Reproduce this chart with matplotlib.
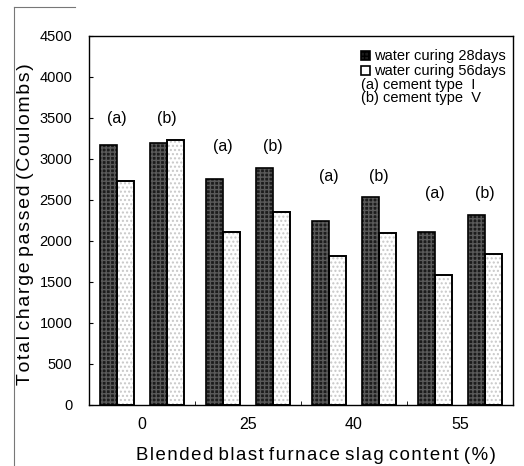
import numpy as np
import matplotlib.pyplot as plt
from matplotlib.lines import Line2D
from matplotlib.patches import Rectangle

plt.rcParams['font.family'] = ['Liberation Sans', 'DejaVu Sans']

# slag content groups and the two cement types inside each group
slag = ['0', '25', '40', '55']
cement = ['(a)', '(b)']

# total charge passed (Coulombs), order: 0(a), 0(b), 25(a), 25(b), ...
curing_28 = [3170, 3190, 2760, 2890, 2240, 2530, 2110, 2320]
curing_56 = [2730, 3230, 2110, 2350, 1820, 2100, 1590, 1840]


def spaced(s, gap='\u200a'):
    # crude letter spacing like the scanned figure
    return ' '.join(gap.join(word) for word in s.split(' '))


fig = plt.figure(figsize=(5.24, 4.66), dpi=100)
ax = fig.add_axes([0.170, 0.131, 0.809, 0.792])

w = 0.16
off = 0.235
pos = []
for i in range(len(slag)):
    pos += [i - off, i + off]
pos = np.array(pos)

# textured fill first, then the black outline on top
ax.bar(pos - w / 2, curing_28, w, color='#1c1c1c', hatch='++++',
       edgecolor='#5a5a5a', linewidth=0)
ax.bar(pos + w / 2, curing_56, w, color='white', hatch='....',
       edgecolor='#c8c8c8', linewidth=0)
ax.bar(pos - w / 2, curing_28, w, fill=False, edgecolor='black', linewidth=1.2)
ax.bar(pos + w / 2, curing_56, w, fill=False, edgecolor='black', linewidth=1.4)

# (a)/(b) labels above each group
for i in range(len(slag)):
    top = max(curing_28[2 * i:2 * i + 2] + curing_56[2 * i:2 * i + 2])
    for j, lab in enumerate(cement):
        ax.text(pos[2 * i + j], top + 260, lab, ha='center', va='center',
                fontsize=11.5)

ax.set_xlim(-0.5, 3.5)
ax.set_ylim(0, 4500)
ax.set_yticks(np.arange(0, 4501, 500))
ax.set_xticks(range(len(slag)))
ax.set_xticklabels(slag)
ax.set_xticks([0.5, 1.5, 2.5], minor=True)
ax.tick_params(axis='x', which='major', length=0, pad=9, labelsize=11.5)
ax.tick_params(axis='x', which='minor', direction='in', length=3)
ax.tick_params(axis='y', direction='in', length=3, pad=12, labelsize=10.5)
for s in ax.spines.values():
    s.set_linewidth(1.0)

ax.set_xlabel(spaced('Blended blast furnace slag content (%)'), fontsize=13.4)
ax.xaxis.set_label_coords(0.535, -0.115)
ax.set_ylabel(spaced('Total charge passed (Coulombs)'), fontsize=14)
ax.yaxis.set_label_coords(-0.131, 0.49)

# legend block, upper right: small squares plus text
sq, lx = 0.642, 0.672
sw, sh = 9 / 424, 9 / 369
for y, fc, hatch, txt in [(0.946, '#1c1c1c', '++++', 'water curing 28days'),
                          (0.905, 'white', None, 'water curing 56days')]:
    ax.add_patch(Rectangle((sq, y - sh / 2), sw, sh, transform=ax.transAxes,
                           facecolor=fc, hatch=hatch, edgecolor='black',
                           linewidth=1.2, clip_on=False))
    ax.text(lx, y, txt, transform=ax.transAxes, fontsize=10.5, va='center')
ax.text(sq, 0.868, '(a) cement type  I', transform=ax.transAxes,
        fontsize=10.5, va='center')
ax.text(sq, 0.832, '(b) cement type  V', transform=ax.transAxes,
        fontsize=10.5, va='center')

# thin border left on the scanned page
fig.add_artist(Line2D([14 / 524, 14 / 524], [0, 1 - 7 / 466],
                      color='#777777', linewidth=0.8))
fig.add_artist(Line2D([14 / 524, 75 / 524], [1 - 7 / 466, 1 - 7 / 466],
                      color='#777777', linewidth=0.8))

fig.savefig('out.png', dpi=100)
